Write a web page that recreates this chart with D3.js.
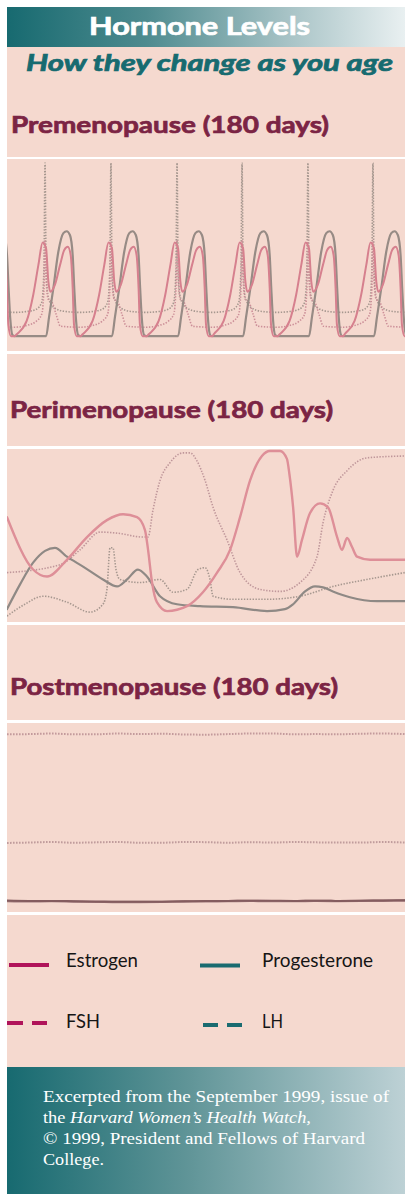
<!DOCTYPE html>
<html><head><meta charset="utf-8">
<script src="https://cdn.jsdelivr.net/npm/d3@7"></script>
<style>html,body{margin:0;padding:0;background:#fff;} svg{display:block}</style>
</head><body>
<script>
// ---------- texts ----------
const titleText = "Hormone Levels";
const subtitleText = "How they change as you age";
const panelTitles = ["Premenopause (180 days)", "Perimenopause (180 days)", "Postmenopause (180 days)"];
const legendLabels = ["Estrogen", "Progesterone", "FSH", "LH"];
const footerLine1 = "Excerpted from the September 1999, issue of";
const footerLine2a = "the ";
const footerLine2b = "Harvard Women’s Health Watch,";
const footerLine3 = "© 1999, President and Fellows of Harvard";
const footerLine4 = "College.";

// ---------- Premenopause: one cycle (day offset from LH surge, level 0-100) ----------
const preSurgeDays = [-12.5, 17.2, 47.0, 76.9, 106.3, 136.1, 165.5];
const preEstrogenD = [-13.7,-12.8,-8.3,-5.3,-3.0,-1.1,0.45,1.5,2.4,4.5,6.8,8.7,10.3,11.6,12.5,13.1,14.3,16];
const preEstrogenV = [7.3,8.3,15.3,29.2,44.8,56.6,53.6,36.1,30.7,34.4,44.8,52.6,54.3,50,32.8,13.5,7.3,7.3];
const preProgD = [-13.7,0.5,1.8,3.8,6.0,8.3,9.8,11.3,12.5,13.2,14.0,15.0,16];
const preProgV = [7.3,7.3,17.2,32.8,51.6,61.5,62.5,60.4,50,32.8,16.1,7.8,7.3];
const preFshD = [-13.7,-8,-4,-1.5,-0.5,0,0.5,1.5,3,5,7,16];
const preFshV = [12,13,15.1,18.8,31.8,57.8,37,26.6,25.5,18.8,12.5,12];
const preLhD = [-13.7,-8,-4,-1.5,-0.5,0,0.5,1.5,4,9,16];
const preLhV = [19.8,20.3,21.4,25,42.2,98.4,42.2,27.6,22.4,20.3,19.8];

// ---------- Perimenopause (day, level) ----------
const periEstrogenD = [0,11.8,18.1,27.1,36.2,45.2,52.5,58.8,62.4,63.8,65.6,67.8,72.4,81.4,88.6,95,100.9,105.4,109.9,115.3,118.9,123.5,126.6,127.7,129.4,131.2,133.4,137,141.6,145.2,149.3,151.5,153.8,156,158.3,164.2,180];
const periEstrogenV = [60.7,30.1,26,35.8,49.1,59,62.4,60.7,53.2,41.6,22.5,11,5.8,8.7,16.8,28.3,41.6,60.7,82.1,96.5,99.4,99.4,94.8,86.1,66.5,37.6,47.4,63,68.8,66.5,49.1,41.6,48.6,43.4,37.6,35.8,35.8];
const periProgD = [0,5.9,11.8,17.2,21.7,27.1,34.4,43.4,49.8,54.3,59.2,63.3,69.2,76.9,87.3,102.2,117.6,125.7,129.4,134.8,139.3,142.9,147.4,155.1,167.3,180];
const periProgV = [6.9,21.4,34.1,41,42.8,37.6,31.8,24.3,20.2,24.3,30.1,26,14.5,9.8,8.7,8.1,5.8,6.9,9.8,17.3,20.2,19.7,17.3,13.9,11.6,11.6];
const periFshD = [0,24,33,42.1,49.8,61.5,63.8,66,69.2,73.7,79.6,82.8,85.9,89.6,93.2,99.5,105.4,114.4,123.5,132.5,140.2,142.9,147.4,153.8,162.8,180];
const periFshV = [28.3,32.9,41.6,52,51.4,49.1,49.1,64.7,82.1,92.5,98.3,98.3,93.6,82.1,66.5,47.4,28.3,18.5,17.3,22.5,37.6,57.2,76.3,87.9,95.4,96.5];
const periLhD = [0,8.1,16.3,27.1,37.5,43.4,45.2,46.6,47.9,49.3,51.1,60.2,69.2,75.1,81.4,86.4,89.6,91.8,93.2,102.2,117.6,132.5,147.4,162.8,180];
const periLhV = [2.9,9.8,14.5,11,5.2,9.8,18.5,42.8,42.8,30.1,24.3,22.5,24.3,16.8,18.5,30.1,31.2,24.3,14.5,12.7,12.7,14.5,20.2,24.3,28.3];

// ---------- Postmenopause (day, level) ----------
const postDays = [0,10,20,30,40,50,60,70,80,90,100,110,120,130,140,150,160,170,180];
const postFshV = [94.5,94.6,94.9,94.5,94.5,94.9,94.6,94.8,94.4,94.3,94.6,94.9,94.9,94.5,94.6,94.5,94.8,94.9,94.6];
const postLhV = [36.4,36.6,36.9,36.5,36.7,36.9,36.5,36.5,36.9,36.8,36.5,36.8,36.6,36.9,36.7,36.6,36.6,36.9,36.6];
const postEstrogenV = [5.6,5.4,5.4,5.2,5.0,4.9,4.9,5.0,5.2,5.3,5.4,5.5,5.5,5.4,5.5,5.4,5.5,5.6,5.8];
const postProgV = [5.3,5.2,5.3,5.1,5.0,4.8,4.8,4.9,5.1,5.2,5.3,5.4,5.3,5.3,5.4,5.3,5.4,5.5,5.6];

// ---------- build ----------
const W = 405, H = 1194;
const svg = d3.select("body").append("svg").attr("width", W).attr("height", H);
const defs = svg.append("defs");
const pink = "#f5d9cf";

function grad(id, stops) {
  const g = defs.append("linearGradient").attr("id", id).attr("x1", "0").attr("x2", "1").attr("y1", "0").attr("y2", "0");
  stops.forEach(s => g.append("stop").attr("offset", s[0]).attr("stop-color", s[1]));
}
grad("hdr", [[0, "#176a70"], [0.35, "#4e8b8f"], [0.7, "#a6c2c5"], [1, "#e9f0f1"]]);
grad("ftr", [[0, "#176a70"], [0.45, "#5f9497"], [1, "#bdd1d5"]]);
defs.append("filter").attr("id", "soft").attr("x", "-5%").attr("y", "-5%").attr("width", "110%").attr("height", "110%")
  .append("feGaussianBlur").attr("stdDeviation", 0.55);

// blocks
const blocks = [[47, 157], [159, 351], [354, 446], [449, 622], [625, 720], [723, 912], [915, 1067]];
blocks.forEach(b => svg.append("rect").attr("x", 7).attr("y", b[0]).attr("width", W - 7).attr("height", b[1] - b[0]).attr("fill", pink));
svg.append("rect").attr("x", 7).attr("y", 7).attr("width", W - 7).attr("height", 40).attr("fill", "url(#hdr)");
svg.append("rect").attr("x", 7).attr("y", 1067).attr("width", W - 7).attr("height", H - 1067).attr("fill", "url(#ftr)");

const sans = "Lato, 'Open Sans', 'DejaVu Sans', sans-serif";
svg.append("text").attr("x", 199.5).attr("y", 34.5).attr("text-anchor", "middle")
  .attr("font-family", sans).attr("font-weight", 700).attr("font-size", 24).attr("fill", "#fff")
  .attr("stroke", "#fff").attr("stroke-width", 0.7)
  .attr("textLength", 221).attr("lengthAdjust", "spacingAndGlyphs").text(titleText);
svg.append("text").attr("x", 26).attr("y", 71)
  .attr("font-family", sans).attr("font-weight", 700).attr("font-style", "italic").attr("font-size", 22).attr("fill", "#176b70")
  .attr("stroke", "#176b70").attr("stroke-width", 0.7)
  .attr("textLength", 367).attr("lengthAdjust", "spacingAndGlyphs").text(subtitleText);

const titleSpecs = [[11, 132.5, 318], [10, 418, 323], [10, 694.5, 328]];
panelTitles.forEach((t, i) => {
  svg.append("text").attr("x", titleSpecs[i][0]).attr("y", titleSpecs[i][1])
    .attr("font-family", sans).attr("font-weight", 700).attr("font-size", 23).attr("fill", "#7b2444")
    .attr("stroke", "#7b2444").attr("stroke-width", 0.7)
    .attr("textLength", titleSpecs[i][2]).attr("lengthAdjust", "spacingAndGlyphs").text(t);
});

// scales
const x = d3.scaleLinear().domain([0, 180]).range([7, 405]);
const panels = [
  { top: 159, bottom: 351 },
  { top: 449, bottom: 622 },
  { top: 723, bottom: 912 }
];
panels.forEach((p, i) => {
  p.y = d3.scaleLinear().domain([0, 100]).range([p.bottom - 1, p.top + 1]);
  defs.append("clipPath").attr("id", "clip" + i).append("rect")
    .attr("x", 7).attr("y", p.top).attr("width", W - 7).attr("height", p.bottom - p.top);
  p.g = svg.append("g").attr("clip-path", `url(#clip${i})`).append("g").attr("filter", "url(#soft)");
});

function cycleSeries(D, V) {
  const pts = [];
  preSurgeDays.forEach(s => D.forEach((d, k) => pts.push([s + d, V[k]])));
  pts.sort((a, b) => a[0] - b[0]);
  return pts;
}
function zip(D, V) { return D.map((d, k) => [d, V[k]]); }

function draw(p, pts, color, width, dash) {
  const line = d3.line().x(d => x(d[0])).y(d => p.y(d[1])).curve(d3.curveMonotoneX);
  const path = p.g.append("path").datum(pts).attr("d", line)
    .attr("fill", "none").attr("stroke", color).attr("stroke-width", width)
    .attr("stroke-linejoin", "round");
  if (dash) path.attr("stroke-dasharray", dash);
  else path.attr("stroke-linecap", "round");
}

const cE = "#d6808e", cP = "#978b85", cF = "#cc8f98", cL = "#a6978f";
// premenopause
draw(panels[0], cycleSeries(preLhD, preLhV), cL, 1.6, "1.4,1.5");
draw(panels[0], cycleSeries(preFshD, preFshV), cF, 1.6, "1.4,1.5");
draw(panels[0], cycleSeries(preProgD, preProgV), cP, 2.2, null);
draw(panels[0], cycleSeries(preEstrogenD, preEstrogenV), cE, 2, null);
// perimenopause
draw(panels[1], zip(periLhD, periLhV), cL, 1.6, "1.4,1.5");
draw(panels[1], zip(periFshD, periFshV), "#bf969a", 1.6, "1.4,1.5");
draw(panels[1], zip(periProgD, periProgV), "#8f8985", 2.2, null);
draw(panels[1], zip(periEstrogenD, periEstrogenV), "#de8f98", 2.4, null);
// postmenopause
draw(panels[2], zip(postDays, postFshV), "#c39a9c", 2, "1.6,1.4");
draw(panels[2], zip(postDays, postLhV), "#c09c9c", 2, "1.6,1.4");
draw(panels[2], zip(postDays, postProgV), "#a07a7c", 2.4, null);
draw(panels[2], zip(postDays, postEstrogenV), "#845c5f", 2, null);

// legend
const lg = svg.append("g");
const legendSpecs = [
  { x1: 9, x2: 49, y: 965, color: "#b0145a", dash: null, tx: 66, ty: 967, tl: 72 },
  { x1: 200, x2: 240, y: 965.5, color: "#1a6b70", dash: null, tx: 262, ty: 967, tl: 111 },
  { x1: 7, x2: 47, y: 1023, color: "#b0145a", dash: "16,9", tx: 66, ty: 1027.5, tl: 34 },
  { x1: 203, x2: 242, y: 1025, color: "#1a6b70", dash: "15,9", tx: 262, ty: 1027.5, tl: 21 }
];
legendLabels.forEach((lab, i) => {
  const s = legendSpecs[i];
  const l = lg.append("line").attr("x1", s.x1).attr("x2", s.x2).attr("y1", s.y).attr("y2", s.y)
    .attr("stroke", s.color).attr("stroke-width", 4);
  if (s.dash) l.attr("stroke-dasharray", s.dash);
  lg.append("text").attr("x", s.tx).attr("y", s.ty).attr("font-family", sans).attr("font-size", 20)
    .attr("fill", "#151515").attr("textLength", s.tl).attr("lengthAdjust", "spacingAndGlyphs").text(lab);
});

// footer
const serif = "'Liberation Serif', 'Times New Roman', serif";
const ft = (y, tl) => svg.append("text").attr("x", 43).attr("y", y).attr("font-family", serif)
  .attr("font-size", 17).attr("fill", "#fff").attr("textLength", tl).attr("lengthAdjust", "spacingAndGlyphs");
ft(1101.5, 346).text(footerLine1);
const l2 = ft(1123, 268);
l2.append("tspan").text(footerLine2a);
l2.append("tspan").attr("font-style", "italic").text(footerLine2b);
ft(1144, 322).text(footerLine3);
ft(1164.5, 61).text(footerLine4);
</script>
</body></html>
